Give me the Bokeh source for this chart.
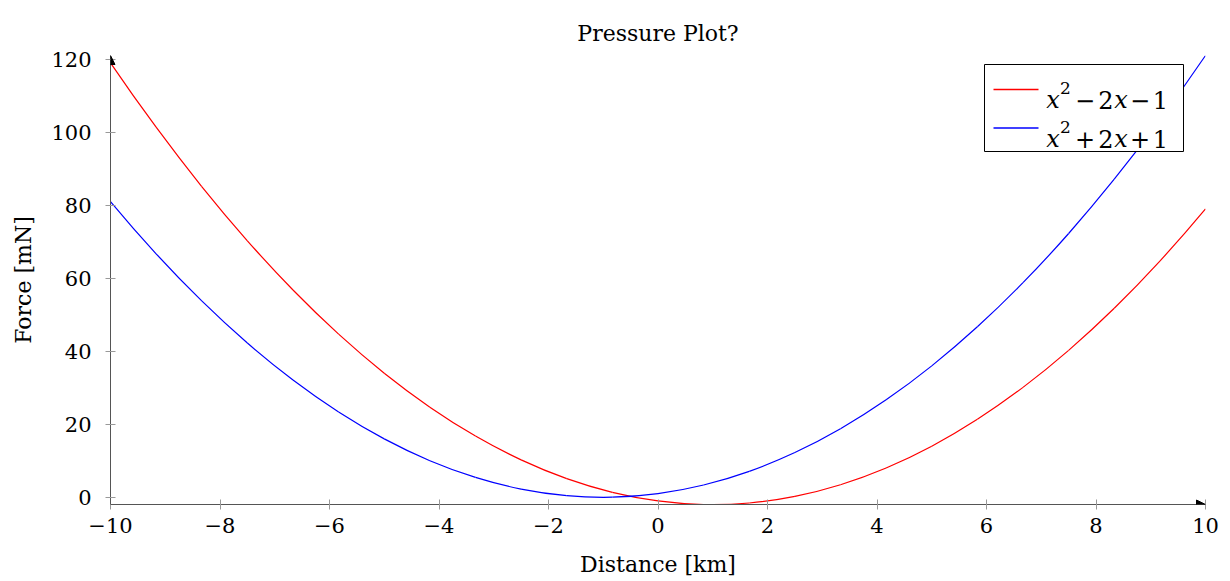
from bokeh.plotting import figure
from bokeh.models import Range1d, FixedTicker, Arrow, NormalHead
from bokeh.core.properties import value
from bokeh.embed import file_html
from bokeh.resources import INLINE

# ---- data (25 samples, as drawn) ----
x_vals = [-10.0, -9.16667, -8.33333, -7.5, -6.66667, -5.83333, -5.0, -4.16667,
          -3.33333, -2.5, -1.66667, -0.83333, 0.0, 0.83333, 1.66667, 2.5,
          3.33333, 4.16667, 5.0, 5.83333, 6.66667, 7.5, 8.33333, 9.16667, 10.0]
red_vals = [119.0, 101.36111, 85.11111, 70.25, 56.77778, 44.69444, 34.0, 24.69444,
            16.77778, 10.25, 5.11111, 1.36111, -1.0, -1.97222, -1.55556, 0.25,
            3.44444, 8.02778, 14.0, 21.36111, 30.11111, 40.25, 51.77778, 64.69444, 79.0]
blue_vals = [81.0, 66.69444, 53.77778, 42.25, 32.11111, 23.36111, 16.0, 10.02778,
             5.44444, 2.25, 0.44444, 0.02778, 1.0, 3.36111, 7.11111, 12.25,
             18.77778, 26.69444, 36.0, 46.69444, 58.77778, 72.25, 87.11111, 103.36111, 121.0]
x_ticks = [-10, -8, -6, -4, -2, 0, 2, 4, 6, 8, 10]
y_ticks = [0, 20, 40, 60, 80, 100, 120]
title_text = "Pressure Plot?"
x_label = "Distance [km]"
y_label = "Force [mN]"
series_colors = ["#ff0000", "#0000ff"]
legend_red = [("x", "it"), ("2", "sup"), ("\u2212", "up"), ("2", "up"), ("x", "it"), ("\u2212", "up"), ("1", "up")]
legend_blue = [("x", "it"), ("2", "sup"), ("+", "up"), ("2", "up"), ("x", "it"), ("+", "up"), ("1", "up")]

XMIN, XMAX = min(x_vals), max(x_vals)
YMIN, YMAX = min(red_vals + blue_vals), max(red_vals + blue_vals)

FONT = "DejaVu Serif"
W, H = 1222, 580
BL, BR, BT, BB = 110, 17, 55, 76
FW, FH = W - BL - BR, H - BT - BB

p = figure(width=W, height=H, output_backend="svg", toolbar_location=None,
           x_range=Range1d(XMIN, XMAX), y_range=Range1d(YMIN, YMAX),
           min_border_left=BL, min_border_right=BR, min_border_top=BT, min_border_bottom=BB,
           title=title_text)
p.outline_line_color = None
p.grid.visible = False
p.background_fill_color = "white"
p.border_fill_color = "white"

p.title.align = "center"
p.title.vertical_align = "top"
p.title.text_font = FONT
p.title.text_font_size = "22px"
p.title.text_font_style = "normal"
p.title.text_color = "black"
p.title.standoff = 16

def fmt(v):
    return ("\u2212" + str(abs(v))) if v < 0 else str(v)

for ax, ticks, lab in ((p.xaxis[0], x_ticks, x_label), (p.yaxis[0], y_ticks, y_label)):
    ax.ticker = FixedTicker(ticks=ticks)
    ax.major_label_overrides = {t: fmt(t) for t in ticks}
    ax.axis_label = lab
    ax.axis_label_text_font = FONT
    ax.axis_label_text_font_size = "22px"
    ax.axis_label_text_font_style = "normal"
    ax.axis_label_text_color = "black"
    ax.major_label_text_font = FONT
    ax.major_label_text_font_size = "21px"
    ax.major_label_text_color = "black"
    ax.axis_line_color = "#555555"
    ax.axis_line_width = 1
    ax.major_tick_line_color = "#999999"
    ax.major_tick_in = 5
    ax.major_tick_out = 5
    ax.minor_tick_line_color = None

p.xaxis.major_label_standoff = 8
p.xaxis.axis_label_standoff = 16
p.yaxis.major_label_standoff = 14
p.yaxis.axis_label_standoff = 12

# smooth quadratic segments through the samples (tangents from neighbouring samples)
def quad_segments(xs, ys):
    n = len(xs)
    d = [0.0] * n
    for i in range(1, n - 1):
        d[i] = (ys[i + 1] - ys[i - 1]) / (xs[i + 1] - xs[i - 1])
    d[0] = 2 * (ys[1] - ys[0]) / (xs[1] - xs[0]) - d[1]
    d[-1] = 2 * (ys[-1] - ys[-2]) / (xs[-1] - xs[-2]) - d[-2]
    x0, y0, x1, y1, cx, cy = [], [], [], [], [], []
    for i in range(n - 1):
        h = xs[i + 1] - xs[i]
        x0.append(xs[i]); y0.append(ys[i]); x1.append(xs[i + 1]); y1.append(ys[i + 1])
        cx.append(xs[i] + h / 2); cy.append(ys[i] + d[i] * h / 2)
    return dict(x0=x0, y0=y0, x1=x1, y1=y1, cx=cx, cy=cy)

p.quadratic(**quad_segments(x_vals, red_vals), line_color=series_colors[0], line_width=1.2)
p.quadratic(**quad_segments(x_vals, blue_vals), line_color=series_colors[1], line_width=1.2)

# axis arrowheads
p.add_layout(Arrow(end=NormalHead(size=9, fill_color="black", line_color="black", line_width=1),
                   x_start=XMAX - 0.2, y_start=YMIN, x_end=XMAX, y_end=YMIN, line_alpha=0))
p.add_layout(Arrow(end=NormalHead(size=9, fill_color="black", line_color="black", line_width=1),
                   x_start=XMIN, y_start=YMAX - 2, x_end=XMIN, y_end=YMAX, line_alpha=0))

# ---- page-pixel layout helpers (converted to data units) ----
OX, OY = BL, BT
def fx(px):
    return XMIN + (px - OX) / FW * (XMAX - XMIN)
def fy(py):
    return YMAX - (py - OY) / FH * (YMAX - YMIN)

# legend
p.quad(left=[fx(984)], right=[fx(1183)], top=[fy(64)], bottom=[fy(151)],
       fill_color="white", line_color="black", line_width=1)
p.segment(x0=[fx(993), fx(993)], y0=[fy(89), fy(127.5)],
          x1=[fx(1038), fx(1038)], y1=[fy(89), fy(127.5)],
          line_color=series_colors, line_width=1.3)

centers = [1052.5, 1065, 1084.5, 1105.5, 1120.5, 1139.5, 1160]
for items, base in ((legend_red, 99.3), (legend_blue, 138.3)):
    for (txt, kind), cx in zip(items, centers):
        if kind == "sup":
            yy, size, style = fy(base - 12), "17px", "normal"
        elif kind == "it":
            yy, size, style = fy(base), "24px", "italic"
        else:
            yy, size, style = fy(base), "24px", "normal"
        p.text(x=[fx(cx)], y=[yy], text=[txt], text_align="center",
               text_baseline="alphabetic", text_font=value(FONT),
               text_font_size=size, text_font_style=style, text_color="black")

open("out.html", "w").write(file_html(p, INLINE))
